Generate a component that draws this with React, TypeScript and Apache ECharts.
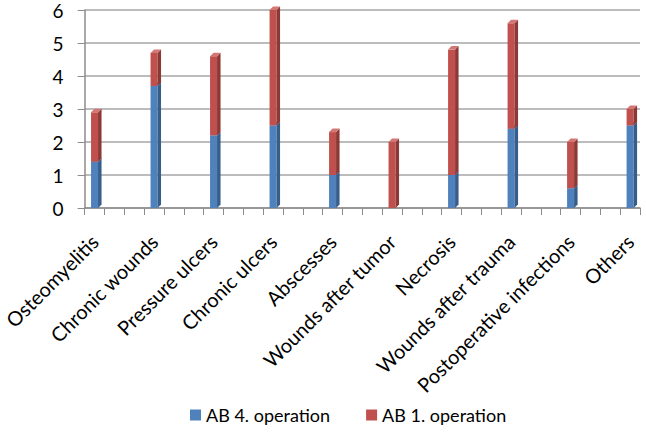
import React, { useEffect, useRef } from "react";
import * as echarts from "echarts";

const categories = [
  "Osteomyelitis",
  "Chronic wounds",
  "Pressure ulcers",
  "Chronic ulcers",
  "Abscesses",
  "Wounds after tumor",
  "Necrosis",
  "Wounds after trauma",
  "Postoperative infections",
  "Others",
];
const ab4 = [1.4, 3.7, 2.2, 2.5, 1.0, 0, 1.0, 2.4, 0.6, 2.5];
const ab1 = [1.5, 1.0, 2.4, 3.5, 1.3, 2.0, 3.8, 3.2, 1.4, 0.5];
const yTicks = [0, 1, 2, 3, 4, 5, 6];

const SLOTS_PER_CAT = 3;
const FONT = "Lato, 'Open Sans', sans-serif";

export default function App() {
  const ref = useRef<HTMLDivElement>(null);
  useEffect(() => {
    document.body.style.margin = "0";
    if (!ref.current) return;
    const chart = echarts.init(ref.current, undefined, { renderer: "svg" });
    const nSlots = (categories.length - 1) * SLOTS_PER_CAT + 1;
    const slotLabels: string[] = [];
    for (let i = 0; i < nSlots; i++) {
      slotLabels.push(i % SLOTS_PER_CAT === 0 ? categories[i / SLOTS_PER_CAT] : "");
    }
    const blueData = categories.map((_, i) => [i * SLOTS_PER_CAT, 0, ab4[i]]);
    const redData = categories.map((_, i) => [i * SLOTS_PER_CAT, ab4[i], ab4[i] + ab1[i]]);

    const makeRender = (front: string, side: string, top: string) => (params: any, api: any) => {
      const x = api.value(0);
      const b = api.value(1);
      const t = api.value(2);
      if (t <= b) return { type: "group", children: [] };
      const p0 = api.coord([x, b]);
      const p1 = api.coord([x, t]);
      const w = 7;
      const d = 3.5;
      const l = p0[0] - w / 2;
      const r = p0[0] + w / 2;
      return {
        type: "group",
        children: [
          {
            type: "rect",
            shape: { x: l, y: p1[1], width: w, height: p0[1] - p1[1] },
            style: { fill: front },
          },
          {
            type: "polygon",
            shape: {
              points: [
                [r, p1[1]],
                [r + d, p1[1] - d],
                [r + d, p0[1] - d],
                [r, p0[1]],
              ],
            },
            style: { fill: side },
          },
          {
            type: "polygon",
            shape: {
              points: [
                [l, p1[1]],
                [l + d, p1[1] - d],
                [r + d, p1[1] - d],
                [r, p1[1]],
              ],
            },
            style: { fill: top },
          },
        ],
      };
    };

    chart.setOption({
      animation: false,
      textStyle: { fontFamily: FONT },
      grid: { left: 80, right: 6, top: 5, bottom: 229, containLabel: false },
      legend: {
        top: 401,
        left: 185,
        icon: "rect",
        itemWidth: 11,
        itemHeight: 11,
        itemGap: 36,
        textStyle: { fontSize: 18, color: "#000", fontFamily: FONT },
        data: [
          { name: "AB 4. operation", itemStyle: { color: "#4F81BD" } },
          { name: "AB 1. operation", itemStyle: { color: "#C0504D" } },
        ],
      },
      xAxis: {
        type: "category",
        data: slotLabels,
        boundaryGap: true,
        axisLine: { show: true, lineStyle: { color: "#8c8c8c", width: 1.5 } },
        axisTick: { show: true, interval: 0, length: 7, lineStyle: { color: "#8c8c8c" } },
        axisLabel: {
          interval: 0,
          rotate: 45,
          fontSize: 20,
          color: "#000",
          margin: 30,
          padding: [2, 0, 0, 0],
          fontFamily: FONT,
        },
      },
      yAxis: {
        type: "value",
        min: yTicks[0],
        max: yTicks[yTicks.length - 1],
        interval: 1,
        axisLine: { show: true, lineStyle: { color: "#8c8c8c", width: 1.5 } },
        axisTick: { show: true, length: 7, lineStyle: { color: "#8c8c8c" } },
        axisLabel: {
          fontSize: 19,
          lineHeight: 14,
          padding: [6, 0, 0, 0],
          color: "#000",
          margin: 21,
          fontFamily: FONT,
        },
        splitLine: { show: true, lineStyle: { color: "#a6a6a6", width: 1.5 } },
      },
      series: [
        {
          name: "AB 4. operation",
          type: "custom",
          itemStyle: { color: "#4F81BD" },
          renderItem: makeRender("#4F81BD", "#375D8A", "#7198CC"),
          encode: { x: 0, y: [1, 2] },
          data: blueData,
        },
        {
          name: "AB 1. operation",
          type: "custom",
          itemStyle: { color: "#C0504D" },
          renderItem: makeRender("#C0504D", "#8C3936", "#D27774"),
          encode: { x: 0, y: [1, 2] },
          data: redData,
        },
      ],
    });
    return () => chart.dispose();
  }, []);
  return <div ref={ref} style={{ width: 646, height: 437 }} />;
}
